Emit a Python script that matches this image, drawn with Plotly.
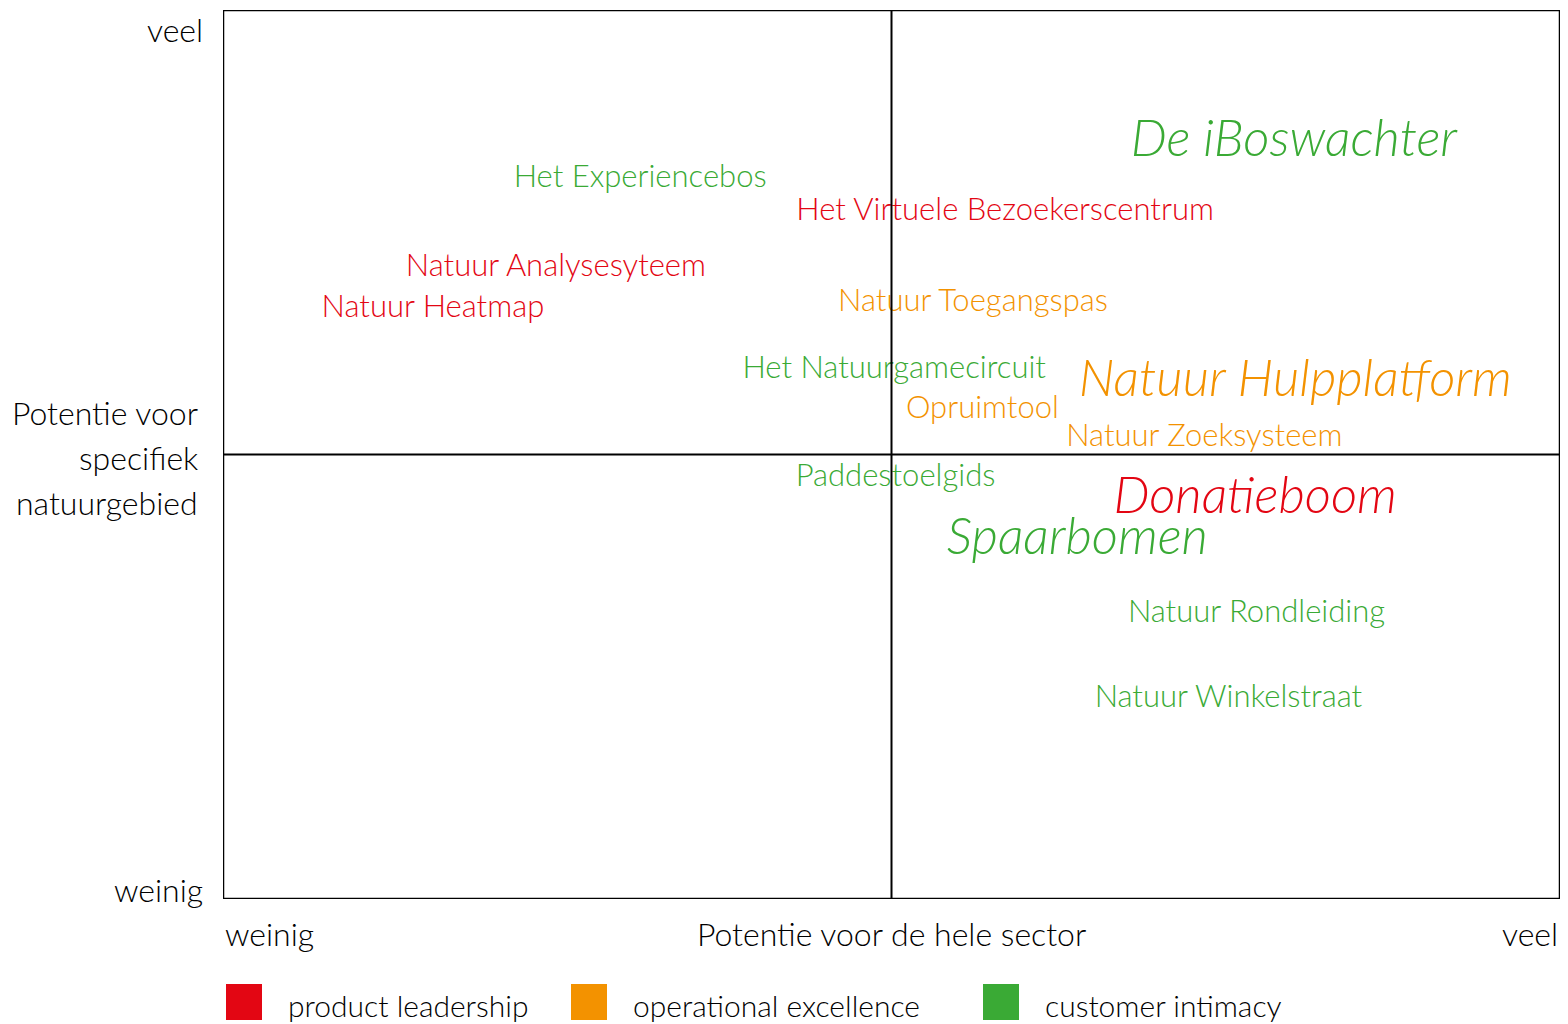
import plotly.graph_objects as go

RED = '#E30613'
ORANGE = '#F39200'
GREEN = '#3AAA35'

# labels per strategy: name, x (sector potential), y (area potential), big?
red_names = ['Het Virtuele Bezoekerscentrum', 'Natuur Analysesyteem', 'Natuur Heatmap', 'Donatieboom']
red_x = [5.85, 2.49, 1.57, 7.72]
red_y = [7.72, 7.09, 6.63, 4.48]
red_big = [False, False, False, True]

orange_names = ['Natuur Toegangspas', 'Opruimtool', 'Natuur Zoeksysteem', 'Natuur Hulpplatform']
orange_x = [5.61, 5.68, 7.34, 8.02]
orange_y = [6.70, 5.50, 5.18, 5.80]
orange_big = [False, False, False, True]

green_names = ['Het Experiencebos', 'Het Natuurgamecircuit', 'Paddestoelgids', 'De iBoswachter',
               'Spaarbomen', 'Natuur Rondleiding', 'Natuur Winkelstraat']
green_x = [3.12, 5.02, 5.03, 8.01, 6.39, 7.73, 7.52]
green_y = [8.10, 5.95, 4.73, 8.50, 4.02, 3.20, 2.25]
green_big = [False, False, False, True, True, False, False]

legend_labels = ['product leadership', 'operational excellence', 'customer intimacy']
y_title_lines = ['Potentie voor', 'specifiek', 'natuurgebied']

FONT = 'Lato'
# page body has an 8px margin, so the figure is drawn 8px smaller
W, H = 1560, 1016
ML, MR, MT, MB = 215, 8, 2, 125
PW, PH = W - ML - MR, H - MT - MB


def px_x(px):
    # screenshot x -> paper x
    return (px - 8 - ML) / PW


def px_y(py):
    # screenshot y -> paper y
    return (H - MB - (py - 8)) / PH


fig = go.Figure()
for names, xs, ys, big, col in [(red_names, red_x, red_y, red_big, RED),
                                (orange_names, orange_x, orange_y, orange_big, ORANGE),
                                (green_names, green_x, green_y, green_big, GREEN)]:
    fig.add_trace(go.Scatter(
        x=xs, y=ys, mode='text',
        text=[f'<i>{n}</i>' if b else n for n, b in zip(names, big)],
        textposition='middle center',
        textfont=dict(family=FONT, color=col, weight=300, size=[51 if b else 31 for b in big]),
        showlegend=False, hoverinfo='text'))

# frame and quadrant lines
fig.add_shape(type='rect', xref='x', yref='y', x0=0, x1=10, y0=0, y1=10,
              line=dict(color='black', width=2.5))
fig.add_shape(type='line', xref='x', yref='y', x0=5, x1=5, y0=0, y1=10,
              line=dict(color='black', width=2))
fig.add_shape(type='line', xref='x', yref='y', x0=0, x1=10, y0=5, y1=5,
              line=dict(color='black', width=2))

txt = dict(family=FONT, color='black', size=32, weight=300)
ann = [
    dict(x=px_x(205), y=px_y(29), text='veel', xanchor='right'),
    dict(x=px_x(205), y=px_y(889), text='weinig', xanchor='right'),
    dict(x=px_x(223), y=px_y(933), text='weinig', xanchor='left'),
    dict(x=px_x(891), y=px_y(934), text='Potentie voor de hele sector', xanchor='center'),
    dict(x=px_x(1560), y=px_y(933), text='veel', xanchor='right'),
]
for line, py in zip(y_title_lines, [412, 457, 502]):
    ann.append(dict(x=px_x(200), y=px_y(py), text=line, xanchor='right'))
for a in ann:
    a.update(xref='paper', yref='paper', yanchor='middle', showarrow=False, font=txt)
    fig.add_annotation(**a)

# legend: colored squares with labels
leg_font = dict(family=FONT, color='black', size=30, weight=300)
sq_x = [226, 571, 983]
for lab, col, px in zip(legend_labels, [RED, ORANGE, GREEN], sq_x):
    fig.add_shape(type='rect', xref='paper', yref='paper',
                  x0=px_x(px), x1=px_x(px + 36), y0=px_y(1020), y1=px_y(984),
                  fillcolor=col, line=dict(width=0))
    fig.add_annotation(x=px_x(px + 60), y=px_y(1005), xref='paper', yref='paper',
                       text=lab, showarrow=False, xanchor='left', yanchor='middle', font=leg_font)

fig.update_xaxes(range=[0, 10], visible=False, showgrid=False, zeroline=False)
fig.update_yaxes(range=[0, 10], visible=False, showgrid=False, zeroline=False)
fig.update_layout(
    width=W, height=H,
    margin=dict(l=ML, r=MR, t=MT, b=MB),
    plot_bgcolor='white', paper_bgcolor='white',
    showlegend=False,
)

fig.write_html("out.html")
